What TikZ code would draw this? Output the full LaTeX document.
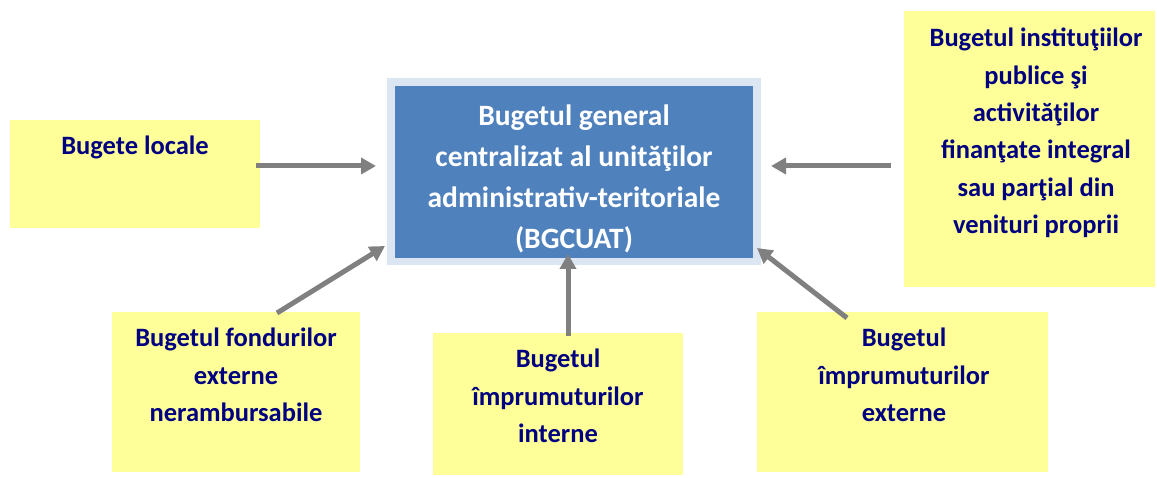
\documentclass[tikz,border=0pt]{standalone}
\usepackage{fontspec}
\setmainfont{Carlito}
\usetikzlibrary{arrows.meta}
\definecolor{ybox}{HTML}{FFFF99}
\definecolor{bbox}{HTML}{4F81BD}
\definecolor{bframe}{HTML}{DCE6F2}
\definecolor{navy}{HTML}{000080}
\definecolor{arr}{HTML}{808080}
\tikzset{
  ybx/.style={fill=ybox, draw=none, inner sep=0pt, anchor=north west},
  ytxt/.style={font=\fontsize{26.5}{37.3}\selectfont\bfseries, text=navy, inner sep=0pt, align=center},
  ctxt/.style={font=\fontsize{29.5}{41}\selectfont\bfseries, text=white, inner sep=0pt, align=center},
  conn/.style={draw=arr, line width=5pt, -{Triangle[length=15pt,width=16pt]}},
}
\begin{document}
\begin{tikzpicture}[x=1pt,y=-1pt]
\useasboundingbox (0,0) rectangle (1157,478);
% central box
\node[fill=bframe, minimum width=374pt, minimum height=187pt, inner sep=0pt, anchor=north west] (cframe) at (387,78) {};
\node[fill=bbox, minimum width=358pt, minimum height=172pt, inner sep=0pt, anchor=north west] (central) at (395,86) {};
\node[ctxt] (ctext) at (574,179) {Bugetul general\\centralizat al unităţilor\\administrativ-teritoriale\\(BGCUAT)};
% yellow boxes
\node[ybx, minimum width=250pt, minimum height=108pt] (loc) at (10,120) {};
\node[ytxt] (loctext) at (135,147) {Bugete locale};
\node[ybx, minimum width=251pt, minimum height=276pt] (inst) at (904,11) {};
\node[ytxt] (insttext) at (1036,133) {Bugetul instituţiilor\\publice şi\\activităţilor\\finanţate integral\\sau parţial din\\venituri proprii};
\node[ybx, minimum width=248pt, minimum height=160pt] (fond) at (112,312) {};
\node[ytxt] (fondtext) at (236,375) {Bugetul fondurilor\\externe\\nerambursabile};
\node[ybx, minimum width=250pt, minimum height=142pt] (imint) at (433,333) {};
\node[ytxt] (iminttext) at (558,396) {Bugetul\\împrumuturilor\\interne};
\node[ybx, minimum width=291pt, minimum height=160pt] (imext) at (757,312) {};
\node[ytxt] (imexttext) at (904,375) {Bugetul\\împrumuturilor\\externe};
% arrow endpoints
\coordinate (a1s) at (256,166); \coordinate (a1e) at (376,166);
\coordinate (a2s) at (891,166); \coordinate (a2e) at (771,166);
\coordinate (a3s) at (277,313); \coordinate (a3e) at (385,246);
\coordinate (a4s) at (568,336); \coordinate (a4e) at (568,254);
\coordinate (a5s) at (847,318); \coordinate (a5e) at (757,248);
\draw[conn] (a1s) -- (a1e);
\draw[conn] (a2s) -- (a2e);
\draw[conn] (a3s) -- (a3e);
\draw[conn] (a4s) -- (a4e);
\draw[conn] (a5s) -- (a5e);
\end{tikzpicture}
\end{document}
